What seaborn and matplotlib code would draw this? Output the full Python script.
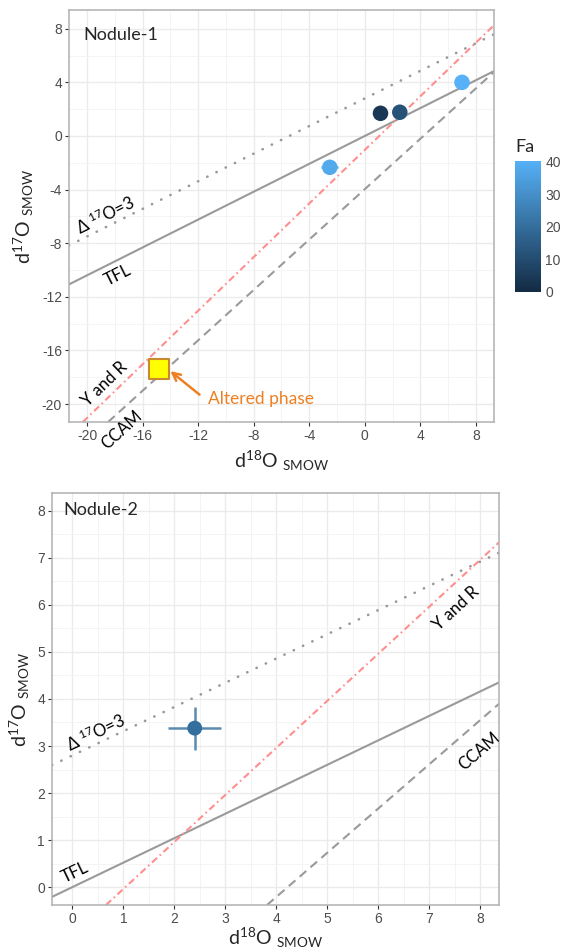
import numpy as np
import pandas as pd
import matplotlib
matplotlib.use("Agg")
import matplotlib.pyplot as plt
import seaborn as sns
from matplotlib.colors import LinearSegmentedColormap, Normalize
from matplotlib.cm import ScalarMappable
from matplotlib.ticker import MultipleLocator

# ── Data ──────────────────────────────────────────────────────────────────
# Nodule-1 olivine analyses (per mil, SMOW)
n1_d18o = [7.0, 1.13, 2.52, -2.52]
n1_d17o = [4.0, 1.69, 1.77, -2.34]
n1_fa = [40.3, 4.0, 12.0, 38.0]
n1_xerr = [0.3, 0.3, 0.3, 0.6]
n1_yerr = [0.3, 0.3, 0.3, 0.4]

# altered phase in Nodule-1
alt_d18o = [-14.8]
alt_d17o = [-17.4]

# Nodule-2
n2_d18o = [2.40]
n2_d17o = [3.38]
n2_fa = [20.0]
n2_xerr = [0.52]
n2_yerr = [0.46]

fa_limits = (0.0, 40.3)
fa_ticks = [0, 10, 20, 30, 40]

# reference lines  d17O = slope * d18O + intercept
line_names = ["D17", "TFL", "YR", "CCAM"]
line_slopes = [0.515, 0.52, 1.0, 0.94]
line_intercepts = [2.8, 0.0, -1.04, -3.97]

# ── Style ─────────────────────────────────────────────────────────────────
sns.set_theme(style="whitegrid")
plt.rcParams["font.family"] = ["Lato", "DejaVu Sans"]
plt.rcParams["mathtext.fontset"] = "custom"
plt.rcParams["mathtext.rm"] = "Lato"
plt.rcParams["mathtext.it"] = "Lato:italic"
plt.rcParams["mathtext.bf"] = "Lato:bold"
plt.rcParams["axes.unicode_minus"] = False

cmap = LinearSegmentedColormap.from_list("gg", ["#132B43", "#56B1F7"])
norm = Normalize(*fa_limits)

GREY = "#9A9A9A"
RED = "#FF8E8E"
ORANGE = "#EE7F22"
line_styles = {
    "D17": dict(color="#999999", ls=(0, (0.1, 3.8)), dash_capstyle="round", lw=1.9),
    "TFL": dict(color=GREY, ls="-", lw=1.5),
    "YR": dict(color=RED, ls=(0, (3.3, 1.7, 0.8, 1.7)), lw=1.5),
    "CCAM": dict(color=GREY, ls=(0, (4.2, 2.7)), lw=1.5),
}
slope_of = dict(zip(line_names, line_slopes))


def style_axes(ax, major, xlim, ylim, xpad=4):
    ax.set_xlim(xlim)
    ax.set_ylim(ylim)
    for axis in (ax.xaxis, ax.yaxis):
        axis.set_major_locator(MultipleLocator(major))
        axis.set_minor_locator(MultipleLocator(major / 2))
    ax.grid(which="major", color="#EBEBEB", lw=1.0)
    ax.grid(which="minor", color="#F3F3F3", lw=0.6)
    ax.set_axisbelow(True)
    for sp in ax.spines.values():
        sp.set_visible(True)
        sp.set_color("#B0B0B0")
        sp.set_linewidth(1.1)
    ax.tick_params(which="major", length=3, width=0.8, color="#333333",
                   labelcolor="#4D4D4D", labelsize=10, pad=2,
                   bottom=True, left=True, labelfontfamily="Liberation Sans")
    ax.tick_params(which="minor", length=0)
    ax.set_xlabel(r"d$^{18}$O $_{\mathrm{SMOW}}$", fontsize=14, labelpad=xpad)
    ax.set_ylabel(r"d$^{17}$O $_{\mathrm{SMOW}}$", fontsize=14, labelpad=4)


def draw_ref_lines(ax):
    for name, m, b in zip(line_names, line_slopes, line_intercepts):
        ax.axline((0, b), slope=m, zorder=2, **line_styles[name])


def line_label(ax, text, x, y, name, size=12):
    ang = np.degrees(np.arctan(slope_of[name]))
    ax.text(x, y, text, rotation=ang, transform_rotates_text=True,
            rotation_mode="anchor", ha="center", va="center",
            fontsize=size, color="black", zorder=5)


def draw_points(ax, d18o, d17o, fa, xerr, yerr, size, ealpha):
    df = pd.DataFrame({"d18O": d18o, "d17O": d17o, "Fa": fa})
    for xi, yi, fi, ex, ey in zip(d18o, d17o, fa, xerr, yerr):
        ax.errorbar(xi, yi, xerr=ex, yerr=ey, fmt="none",
                    ecolor=cmap(norm(fi)), alpha=ealpha, elinewidth=1.8,
                    capsize=0, zorder=3)
    sns.scatterplot(data=df, x="d18O", y="d17O", hue="Fa", palette=cmap,
                    hue_norm=norm, s=size, edgecolor="none", legend=False,
                    ax=ax, zorder=4)


fig = plt.figure(figsize=(5.64, 9.51), dpi=100)
ax1 = fig.add_axes([0.1223, 0.5563, 0.7535, 0.4332])
ax2 = fig.add_axes([0.0922, 0.0484, 0.7926, 0.4332])
cax = fig.add_axes([0.9131, 0.6933, 0.0461, 0.1377])

# ── Nodule-1 ──────────────────────────────────────────────────────────────
style_axes(ax1, 4, (-21.3, 9.3), (-21.34, 9.4))
draw_ref_lines(ax1)
draw_points(ax1, n1_d18o, n1_d17o, n1_fa, n1_xerr, n1_yerr, 125, 1.0)
sns.scatterplot(x=alt_d18o, y=alt_d17o, marker="s", s=210, color="#FFFF00",
                edgecolor="#C98A2E", linewidth=1.5, ax=ax1, zorder=5)
ax1.annotate("", xy=(-14.0, -17.55), xytext=(-11.9, -19.3),
             arrowprops=dict(arrowstyle="->", color=ORANGE, lw=1.8,
                             mutation_scale=14, shrinkA=0, shrinkB=0))
ax1.text(-11.3, -19.6, "Altered phase", color=ORANGE, fontsize=12.5,
         ha="left", va="center")
line_label(ax1, "Δ $^{17}$O=3", -18.7, -5.9, "D17")
line_label(ax1, "TFL", -17.8, -10.4, "TFL")
line_label(ax1, "Y and R", -18.7, -18.5, "YR")
line_label(ax1, "CCAM", -17.5, -21.9, "CCAM")
ax1.text(0.033, 0.94, "Nodule-1", transform=ax1.transAxes, fontsize=13,
         ha="left", va="center")

# ── Nodule-2 ──────────────────────────────────────────────────────────────
style_axes(ax2, 1, (-0.4, 8.37), (-0.38, 8.38), xpad=0)
draw_ref_lines(ax2)
draw_points(ax2, n2_d18o, n2_d17o, n2_fa, n2_xerr, n2_yerr, 115, 0.8)
line_label(ax2, "Δ $^{17}$O=3", 0.46, 3.28, "D17")
line_label(ax2, "TFL", 0.05, 0.32, "TFL")
line_label(ax2, "Y and R", 7.52, 5.93, "YR")
line_label(ax2, "CCAM", 7.98, 2.89, "CCAM")
ax2.text(0.025, 0.959, "Nodule-2", transform=ax2.transAxes, fontsize=13,
         ha="left", va="center")

# ── Colour bar ────────────────────────────────────────────────────────────
cb = fig.colorbar(ScalarMappable(norm=norm, cmap=cmap), cax=cax,
                  ticks=fa_ticks)
cb.outline.set_visible(False)
cax.yaxis.set_ticks_position("both")
cax.tick_params(direction="in", length=4, width=0.8, color="white",
                labelcolor="#4D4D4D", labelsize=10, pad=3,
                left=True, right=True, labelleft=False, labelright=True,
                labelfontfamily="Liberation Sans")
cax.set_title("Fa", loc="left", fontsize=13, pad=6)

fig.savefig("out.png", dpi=100)
